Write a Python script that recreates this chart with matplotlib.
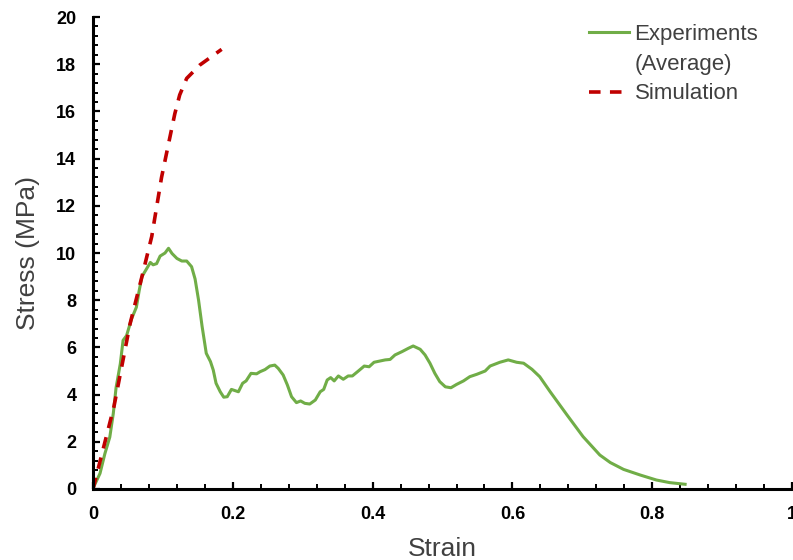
import matplotlib
matplotlib.use('Agg')
import matplotlib.pyplot as plt
from matplotlib.ticker import MultipleLocator

plt.rcParams['font.family'] = ['Liberation Sans', 'DejaVu Sans']

exp_strain = [0.0, 0.010, 0.017, 0.024, 0.029, 0.033, 0.039, 0.043, 0.048, 0.055,
              0.062, 0.066, 0.070, 0.077, 0.082, 0.086, 0.091, 0.096, 0.103, 0.108,
              0.113, 0.120, 0.127, 0.134, 0.141, 0.146, 0.151, 0.156, 0.162, 0.168,
              0.172, 0.176, 0.182, 0.187, 0.192, 0.198, 0.208, 0.214, 0.219, 0.226,
              0.234, 0.239, 0.246, 0.253, 0.260, 0.265, 0.272, 0.278, 0.284, 0.291,
              0.297, 0.303, 0.310, 0.318, 0.325, 0.330, 0.335, 0.340, 0.345, 0.351,
              0.358, 0.365, 0.371, 0.380, 0.388, 0.395, 0.402, 0.410, 0.418, 0.425,
              0.432, 0.442, 0.451, 0.458, 0.468, 0.475, 0.482, 0.489, 0.496, 0.504,
              0.512, 0.520, 0.530, 0.539, 0.549, 0.561, 0.568, 0.582, 0.594, 0.606,
              0.616, 0.628, 0.639, 0.654, 0.678, 0.701, 0.725, 0.740, 0.759, 0.783,
              0.806, 0.825, 0.847]
exp_stress = [0.03, 0.66, 1.5, 2.2, 3.2, 4.3, 5.3, 6.3, 6.5, 7.2,
              7.7, 8.4, 9.0, 9.35, 9.6, 9.5, 9.55, 9.87, 10.0, 10.2,
              9.98, 9.77, 9.66, 9.66, 9.42, 8.9, 8.0, 6.9, 5.75, 5.4,
              5.04, 4.48, 4.12, 3.89, 3.91, 4.22, 4.12, 4.48, 4.58, 4.9,
              4.88, 4.97, 5.06, 5.21, 5.25, 5.11, 4.83, 4.41, 3.91, 3.66,
              3.73, 3.63, 3.6, 3.77, 4.12, 4.22, 4.62, 4.72, 4.58, 4.79,
              4.65, 4.79, 4.79, 5.01, 5.21, 5.18, 5.37, 5.42, 5.47, 5.49,
              5.68, 5.82, 5.96, 6.06, 5.92, 5.68, 5.33, 4.9, 4.55, 4.33,
              4.29, 4.43, 4.58, 4.76, 4.86, 5.0, 5.21, 5.37, 5.47, 5.37,
              5.33, 5.07, 4.76, 4.12, 3.14, 2.22, 1.44, 1.12, 0.83, 0.59,
              0.38, 0.27, 0.2]

# simulation curve
sim_strain = [0.0, 0.030, 0.053, 0.070, 0.084, 0.098, 0.105, 0.117, 0.124, 0.134,
              0.153, 0.184]
sim_stress = [0.0, 3.5, 7.0, 9.0, 10.7, 13.2, 14.2, 15.9, 16.7, 17.4,
              17.97, 18.63]

fig = plt.figure(figsize=(7.93, 5.6), dpi=100)
ax = fig.add_axes([0.1173, 0.1268, 0.8815, 0.8428])

ax.plot(exp_strain, exp_stress, color='#70AD47', lw=2.2, label='Experiments')
ax.plot([], [], color='none', label='(Average)')
ax.plot(sim_strain, sim_stress, color='#C00000', lw=2.6, ls=(0, (3.2, 2.6)),
        label='Simulation')

ax.set_xlim(0, 1)
ax.set_ylim(0, 20)
ax.set_xticks([0, 0.2, 0.4, 0.6, 0.8, 1.0])
ax.set_xticklabels(['0', '0.2', '0.4', '0.6', '0.8', '1'])
ax.xaxis.set_minor_locator(MultipleLocator(0.04))
ax.yaxis.set_major_locator(MultipleLocator(2))
ax.yaxis.set_minor_locator(MultipleLocator(0.4))

for s in ['top', 'right']:
    ax.spines[s].set_visible(False)
for s in ['left', 'bottom']:
    ax.spines[s].set_linewidth(2.2)
ax.tick_params(which='major', direction='in', length=5, width=1.6, pad=12,
               labelsize=13)
ax.tick_params(which='minor', direction='in', length=3.5, width=1.4)
for lb in ax.get_xticklabels() + ax.get_yticklabels():
    lb.set_fontweight('bold')

ax.set_xlabel('Strain', fontsize=19, color='#404040', labelpad=10)
ax.set_ylabel('Stress (MPa)', fontsize=19, color='#404040', labelpad=12)

leg = ax.legend(loc='upper left', bbox_to_anchor=(0.7096, 0.986), frameon=False,
                fontsize=16, handlelength=1.8, handletextpad=0.25,
                labelspacing=0.4, borderpad=0, borderaxespad=0,
                labelcolor='#404040')

fig.savefig('out.png', dpi=100)
